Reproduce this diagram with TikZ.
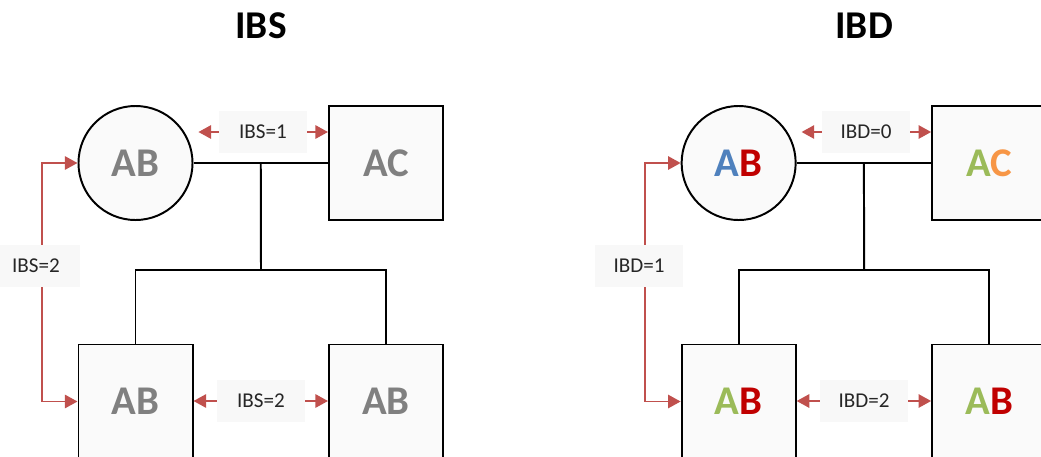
\documentclass[tikz,border=0pt]{standalone}
\usepackage{fontspec}
\setmainfont{Carlito}
\usetikzlibrary{arrows.meta,calc}
\definecolor{ibdred}{RGB}{192,80,77}
\definecolor{alblue}{RGB}{79,129,189}
\definecolor{alred}{RGB}{192,0,0}
\definecolor{algreen}{RGB}{155,187,89}
\definecolor{alorange}{RGB}{247,150,70}
\definecolor{shapefill}{RGB}{250,250,250}
\definecolor{tagfill}{RGB}{248,248,248}

\begin{document}
\begin{tikzpicture}[x=0.025cm, y=-0.025cm,
  person/.style={draw, line width=1.4pt, fill=shapefill, minimum size=2.85cm, inner sep=0pt,
    text=gray, font=\fontsize{29}{30}\selectfont\bfseries},
  male/.style={person, rectangle},
  female/.style={person, circle},
  tag/.style={fill=tagfill, minimum width=2.2cm, minimum height=1.05cm, inner sep=0pt,
    text=black!85, font=\fontsize{15}{18}\selectfont},
  arr/.style={draw=ibdred, line width=1.4pt, -{Triangle[length=9pt,width=9.5pt]}},
  link/.style={line width=1.4pt},
  title/.style={anchor=base, font=\fontsize{28}{30}\selectfont\bfseries}
]
\clip (0,0) rectangle (1041,456);

% identity by state
\node[title] (tibs) at (261,38) {IBS};
\node[female] (ind) at (135.5,163) {AB};
\node[male] (fa) at (386,163) {AC};
\node[male] (s1) at (135.5,401.5) {AB};
\node[male] (s2) at (386,401.5) {AB};
\coordinate (m) at ($(ind.east)!0.5!(fa.west)$);
\coordinate (sib) at (261,270);
\draw[link] (ind) -- (fa);
\draw[link] (m) -- (sib);
\draw[link] (s1.north) |- (sib) -| (s2.north);
\node[tag] (r1) at (263,132) {IBS=1};
\node[tag] (r2) at (36,266) {IBS=2};
\node[tag] (r3) at (261,401) {IBS=2};
\draw[arr, shorten >=3.5pt] (r1.west) -- (r1.west -| ind.east);
\draw[arr] (r1.east) -- (r1.east -| fa.west);
\draw[arr] ([xshift=0.15cm]r2.north) |- (ind.west);
\draw[arr] ([xshift=0.15cm]r2.south) |- (s1.west);
\draw[arr] (r3.west) -- (s1.east |- r3.west);
\draw[arr] (r3.east) -- (s2.west |- r3.east);

% identity by descent
\begin{scope}[xshift=15.075cm]
\node[title] (tibd) at (261,38) {IBD};
\node[female] (dind) at (135.5,163) {\textcolor{alblue}{A}\textcolor{alred}{B}};
\node[male] (dfa) at (386,163) {\textcolor{algreen}{A}\textcolor{alorange}{C}};
\node[male] (ds1) at (135.5,401.5) {\textcolor{algreen}{A}\textcolor{alred}{B}};
\node[male] (ds2) at (386,401.5) {\textcolor{algreen}{A}\textcolor{alred}{B}};
\coordinate (dm) at ($(dind.east)!0.5!(dfa.west)$);
\coordinate (dsib) at (261,270);
\draw[link] (dind) -- (dfa);
\draw[link] (dm) -- (dsib);
\draw[link] (ds1.north) |- (dsib) -| (ds2.north);
\node[tag] (d1) at (263,132) {IBD=0};
\node[tag] (d2) at (36,266) {IBD=1};
\node[tag] (d3) at (261,401) {IBD=2};
\draw[arr, shorten >=3.5pt] (d1.west) -- (d1.west -| dind.east);
\draw[arr] (d1.east) -- (d1.east -| dfa.west);
\draw[arr] ([xshift=0.15cm]d2.north) |- (dind.west);
\draw[arr] ([xshift=0.15cm]d2.south) |- (ds1.west);
\draw[arr] (d3.west) -- (ds1.east |- d3.west);
\draw[arr] (d3.east) -- (ds2.west |- d3.east);
\end{scope}
\end{tikzpicture}
\end{document}
